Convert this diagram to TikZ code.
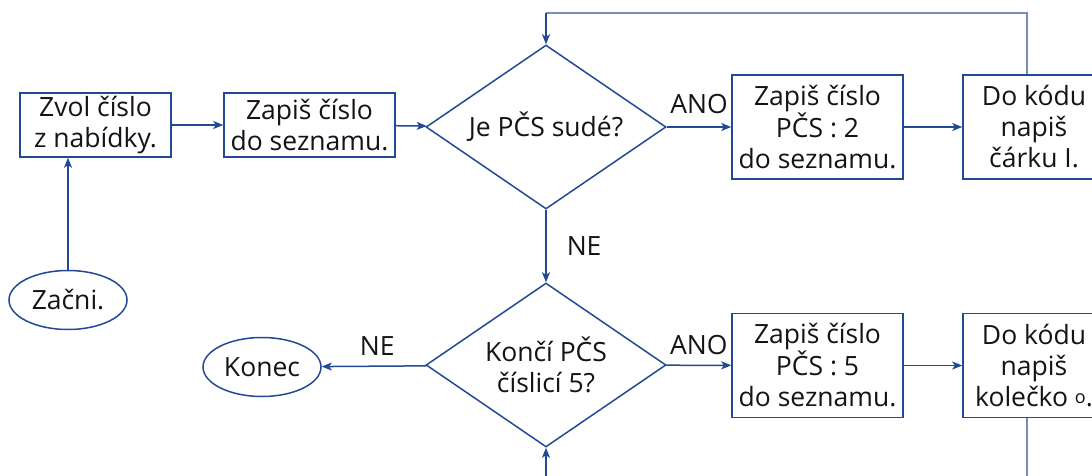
\documentclass[tikz,border=0pt]{standalone}
\usepackage{fontspec}
\setmainfont{Open Sans}
\usetikzlibrary{arrows.meta,positioning,shapes.geometric,calc}

\definecolor{flowblue}{RGB}{34,74,148}
\definecolor{loopblue}{RGB}{118,140,186}

\begin{document}
\begin{tikzpicture}[
    x=1pt, y=-1pt,
    >={Stealth[length=10pt,width=8pt,inset=2.5pt]},
    font=\fontsize{26.5}{31}\selectfont,
    stepbox/.style={
        rectangle,
        draw=flowblue,
        line width=1.5pt,
        fill=white,
        inner sep=0pt,
        text=black!92,
        align=center
    },
    decision/.style={
        diamond,
        draw=flowblue,
        line width=1.5pt,
        inner sep=0pt,
        minimum width=240pt,
        minimum height=164pt,
        aspect=1.46,
        text=black!92,
        align=center
    },
    terminal/.style={
        ellipse,
        draw=flowblue,
        line width=1.5pt,
        inner sep=0pt,
        minimum width=118pt,
        minimum height=59pt,
        text=black!92
    },
    flow/.style={draw=flowblue, line width=1.5pt},
    loopline/.style={draw=loopblue, line width=1.5pt},
    answer/.style={inner sep=0pt, text=black!92}
]
\useasboundingbox (0,0) rectangle (1092,476);
\clip (0,0) rectangle (1092,476);

% Nodes -- top row
\node[stepbox, minimum width=151pt, minimum height=64pt]  (choose) at (95.5,125)  {Zvol číslo\\z nabídky.};
\node[stepbox, minimum width=171pt, minimum height=64pt]  (write)  at (309.5,125) {Zapiš číslo\\do seznamu.};
\node[decision]                                           (even)   at (546,127)   {Je PČS sudé?};
\node[stepbox, minimum width=171pt, minimum height=104pt] (half)   at (817.5,127) {Zapiš číslo\\PČS : 2\\ do seznamu.};
\node[stepbox, minimum width=142pt, minimum height=104pt] (dash)   at (1034,127)  {Do kódu\\napiš\\čárku I.};

% Nodes -- bottom row
\node[terminal]                                           (start)  at (68,300)    {Začni.};
\node[terminal]                                           (stop)   at (262,367)   {Konec};
\node[decision]                                           (five)   at (546,365)   {Končí PČS\\číslicí 5?};
\node[stepbox, minimum width=171pt, minimum height=104pt] (fifth)  at (817.5,365.5) {Zapiš číslo\\PČS : 5\\ do seznamu.};
\node[stepbox, minimum width=142pt, minimum height=104pt] (ring)   at (1034,365.5) {Do kódu\\napiš\\kolečko {\fontsize{18}{18}\selectfont\raisebox{3pt}{o}}.};

% Loop points
\coordinate (dashout)    at ($(dash.north)+(-7,0)$);
\coordinate (looptop)    at (1027,13);
\coordinate (ringout)    at ($(ring.south)+(-7,0)$);
\coordinate (loopbottom) at (1027,495);

% Arrows
\draw[flow,->] (start) -- (start |- choose.south);
\draw[flow,->] (choose) -- (write);
\draw[flow,->] (write) -- (even);
\draw[flow,->] (even) -- node[answer, above=12pt] {ANO} (half);
\draw[flow,->] (half) -- (dash);
\draw[flow,->] (even) -- node[answer, right=20pt] {NE} (five);
\draw[flow,->] (five) -- node[answer, above=10pt] {ANO} (fifth);
\draw[flow,->] (fifth) -- (ring);
\draw[flow,->] (five) -- node[answer, above=10pt, pos=0.47] {NE} (stop);

% Return lines
\draw[loopline] (dashout) -- (looptop) -- (looptop -| even.north);
\draw[flow,->] (looptop -| even.north) -- (even.north);
\draw[loopline] (ringout) -- (loopbottom);
\draw[flow,->] (loopbottom) -| (five.south);

\end{tikzpicture}
\end{document}
